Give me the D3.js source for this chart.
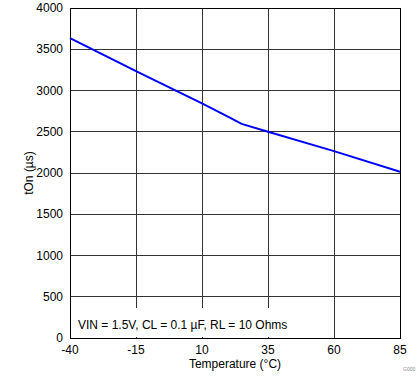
<!DOCTYPE html>
<html>
  <head>
    <meta charset="UTF-8" />
    <style>
      body { margin: 0; background: #fff; }
      svg text { font-family: "Liberation Sans", Arial, sans-serif; }
    </style>
  </head>
  <body>
    <svg></svg>
    <script src="https://d3js.org/d3.v7.min.js"></script>
    <script>
      let width = 419,
        height = 382;

      // data
      const temps = [-40, -15, 10, 20, 25, 35, 60, 85];
      const tOn = [3635, 3235, 2845, 2680, 2595, 2500, 2265, 2015];
      const xTicks = [-40, -15, 10, 35, 60, 85];
      const yTicks = [0, 500, 1000, 1500, 2000, 2500, 3000, 3500, 4000];

      let plotLeft = 70, plotRight = 400, plotTop = 8, plotBottom = 338;

      let svg = d3.select("svg").attr("width", width).attr("height", height);

      let x = d3.scaleLinear().domain([-40, 85]).range([plotLeft, plotRight]);
      let y = d3.scaleLinear().domain([0, 4000]).range([plotBottom, plotTop]);

      // gridlines
      svg.append("g")
        .selectAll("line")
        .data(xTicks)
        .enter()
        .append("line")
        .attr("x1", d => x(d)).attr("x2", d => x(d))
        .attr("y1", plotTop).attr("y2", plotBottom)
        .attr("stroke", "#333").attr("stroke-width", 1)
        .attr("shape-rendering", "crispEdges");
      svg.append("g")
        .selectAll("line")
        .data(yTicks)
        .enter()
        .append("line")
        .attr("x1", plotLeft).attr("x2", plotRight)
        .attr("y1", d => y(d)).attr("y2", d => y(d))
        .attr("stroke", "#333").attr("stroke-width", 1)
        .attr("shape-rendering", "crispEdges");

      // annotation box covers gridlines
      svg.append("rect")
        .attr("x", plotLeft + 1).attr("y", 308)
        .attr("width", 228).attr("height", plotBottom - 308 - 1)
        .attr("fill", "#fff");
      svg.append("text")
        .attr("x", 78).attr("y", 329)
        .attr("font-size", 12)
        .text("VIN = 1.5V, CL = 0.1 µF, RL = 10 Ohms");

      // frame
      svg.append("rect")
        .attr("x", plotLeft).attr("y", plotTop)
        .attr("width", plotRight - plotLeft).attr("height", plotBottom - plotTop)
        .attr("fill", "none").attr("stroke", "#000")
        .attr("shape-rendering", "crispEdges");

      // curve
      let line = d3.line().x((d, i) => x(temps[i])).y(d => y(d));
      svg.append("path")
        .datum(tOn)
        .attr("d", line)
        .attr("fill", "none")
        .attr("stroke", "#0000ff")
        .attr("stroke-width", 2);

      // tick labels
      svg.append("g")
        .selectAll("text")
        .data(yTicks)
        .enter()
        .append("text")
        .attr("x", plotLeft - 7).attr("y", d => y(d) + 4)
        .attr("text-anchor", "end").attr("font-size", 12)
        .text(d => d);
      svg.append("g")
        .selectAll("text")
        .data(xTicks)
        .enter()
        .append("text")
        .attr("x", d => x(d)).attr("y", plotBottom + 16)
        .attr("text-anchor", "middle").attr("font-size", 12)
        .text(d => d);

      // axis titles
      svg.append("text")
        .attr("x", (plotLeft + plotRight) / 2).attr("y", 368)
        .attr("text-anchor", "middle").attr("font-size", 12)
        .text("Temperature (°C)");
      svg.append("text")
        .attr("transform", "translate(33," + (plotTop + plotBottom) / 2 + ") rotate(-90)")
        .attr("text-anchor", "middle").attr("font-size", 12)
        .text("tOn (µs)");

      svg.append("text")
        .attr("x", 403).attr("y", 371)
        .attr("font-size", 5).attr("fill", "#888")
        .text("G000");
    </script>
  </body>
</html>
